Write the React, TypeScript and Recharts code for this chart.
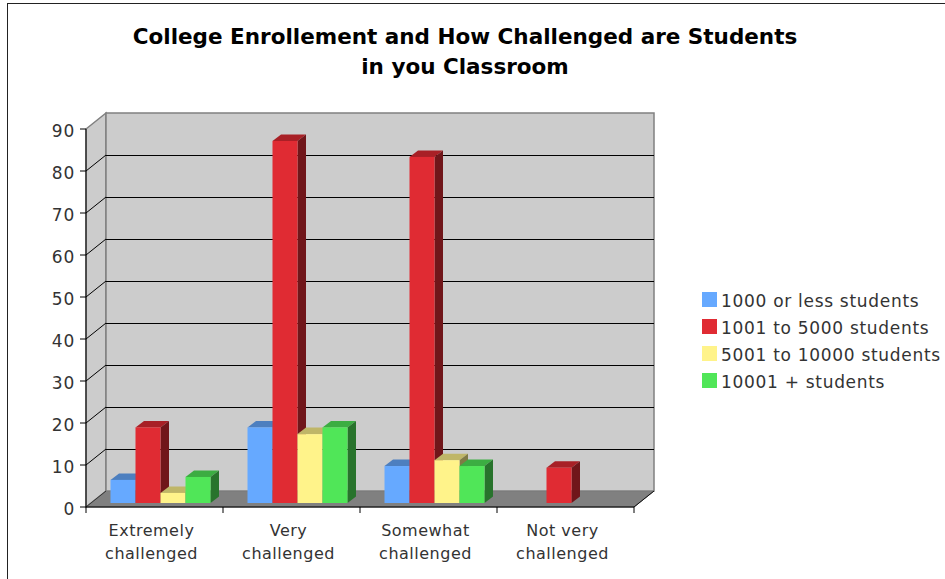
import { Bar, BarChart, CartesianGrid, Legend, ReferenceArea, XAxis, YAxis } from 'recharts';

const categories = ['Extremely challenged', 'Very challenged', 'Somewhat challenged', 'Not very challenged'];
const upTo1000 = [5.5, 18, 8.8, 0];
const upTo5000 = [18, 86.2, 82.4, 8.4];
const upTo10000 = [2.4, 16.4, 10.2, 0];
const over10000 = [6.2, 18, 8.8, 0];
const yTicks = [0, 10, 20, 30, 40, 50, 60, 70, 80, 90];

const chartData = categories.map((name, i) => ({
  name,
  a: upTo1000[i],
  b: upTo5000[i],
  c: upTo10000[i],
  d: over10000[i],
}));

const FONT = '"DejaVu Sans", Verdana, sans-serif';
const TEXT = '#333333';
const WALL_DX = 20;
const WALL_DY = 16;
const PLOT_TOP = 129;
const PLOT_BOTTOM = 507;
const BAND = 137;

const shade = (hex: string, k: number) => {
  const n = parseInt(hex.slice(1), 16);
  const c = (v: number) => Math.round(v * k);
  return `rgb(${c((n >> 16) & 255)},${c((n >> 8) & 255)},${c(n & 255)})`;
};

// bar with a top and a side face, pushed half way into the floor
const Bar3D = (props: any) => {
  const { x, y, width, height, fill } = props;
  if (!height || height <= 0) return null;
  const l = x + 5.5;
  const t = y - 4;
  const r = l + width;
  const b = t + height;
  const dx = 8.5;
  const dy = 6.5;
  return (
    <g>
      <polygon points={`${l},${t} ${l + dx},${t - dy} ${r + dx},${t - dy} ${r},${t}`} fill={shade(fill, 0.75)} />
      <polygon points={`${r},${t} ${r + dx},${t - dy} ${r + dx},${b - dy} ${r},${b}`} fill={shade(fill, 0.5)} />
      <rect x={l} y={t} width={width} height={height} fill={fill} />
    </g>
  );
};

const Walls = (props: any) => {
  const { x, y, width, height } = props;
  const r = x + width;
  const b = y + height;
  return (
    <g>
      <polygon
        points={`${x},${b} ${x + WALL_DX},${b - WALL_DY} ${r + WALL_DX},${b - WALL_DY} ${r},${b}`}
        fill="#808080"
        stroke="#666666"
      />
      <polygon
        points={`${x},${y} ${x + WALL_DX},${y - WALL_DY} ${x + WALL_DX},${b - WALL_DY} ${x},${b}`}
        fill="#cccccc"
        stroke="#808080"
        strokeWidth={1.5}
      />
      <rect x={x + WALL_DX} y={y - WALL_DY} width={width} height={height} fill="#cccccc" stroke="#808080" strokeWidth={1.5} />
      <line x1={x} y1={b} x2={x + WALL_DX} y2={b - WALL_DY} stroke="#333333" />
      <line x1={r} y1={b} x2={r + WALL_DX} y2={b - WALL_DY} stroke="#111111" />
    </g>
  );
};

const GridLine = (props: any) => {
  const { x1, x2, y1 } = props;
  if (y1 <= PLOT_TOP + 1 || y1 >= PLOT_BOTTOM - 1) return <g />;
  return (
    <g>
      <line x1={x1} y1={y1} x2={x1 + WALL_DX} y2={y1 - WALL_DY} stroke="#000000" />
      <line
        x1={x1 + WALL_DX}
        y1={y1 - WALL_DY}
        x2={x2 + WALL_DX}
        y2={y1 - WALL_DY}
        stroke="#000000"
        shapeRendering="crispEdges"
      />
    </g>
  );
};

const CategoryTick = (props: any) => {
  const { x, payload, index } = props;
  const words = String(payload.value).split(' ');
  const second = words.pop();
  const tickLeft = x - BAND / 2;
  return (
    <g>
      <line x1={tickLeft} y1={PLOT_BOTTOM} x2={tickLeft} y2={PLOT_BOTTOM + 6} stroke="#000000" />
      {index === categories.length - 1 && (
        <line x1={tickLeft + BAND} y1={PLOT_BOTTOM} x2={tickLeft + BAND} y2={PLOT_BOTTOM + 6} stroke="#000000" />
      )}
      <text x={x - 3} y={536} textAnchor="middle" fontFamily={FONT} fontSize={16} letterSpacing={0.5} fill={TEXT}>
        {words.join(' ')}
      </text>
      <text x={x - 3} y={559} textAnchor="middle" fontFamily={FONT} fontSize={16} letterSpacing={0.5} fill={TEXT}>
        {second}
      </text>
    </g>
  );
};

const LegendList = (props: any) => (
  <div>
    {props.payload.map((item: any) => (
      <div key={item.value} style={{ display: 'flex', alignItems: 'center', height: 27 }}>
        <span style={{ width: 15, height: 15, background: item.color, marginRight: 4, flexShrink: 0 }} />
        <span
          style={{
            position: 'relative',
            top: 1,
            fontFamily: FONT,
            fontSize: 17,
            letterSpacing: 0.7,
            color: TEXT,
            whiteSpace: 'nowrap',
          }}
        >
          {item.value}
        </span>
      </div>
    ))}
  </div>
);

const titleLine = (text: string, top: number) => (
  <div
    style={{
      position: 'absolute',
      left: 0,
      width: 930,
      top,
      textAlign: 'center',
      fontFamily: FONT,
      fontWeight: 'bold',
      fontSize: 21.5,
      lineHeight: '30px',
      color: '#000000',
    }}
  >
    {text}
  </div>
);

const App = () => {
  return (
    <div style={{ position: 'fixed', left: 0, top: 0, width: 945, height: 579, overflow: 'hidden', background: '#fff' }}>
      <div
        style={{
          position: 'absolute',
          left: 7,
          top: 3,
          width: 1000,
          height: 700,
          border: '1.5px solid #222222',
        }}
      />
      <BarChart
        width={945}
        height={579}
        data={chartData}
        margin={{ top: PLOT_TOP, right: 68, bottom: 12, left: 46 }}
        barSize={25}
        barGap={0}
        style={{ position: 'absolute', left: 0, top: 0 }}
      >
        <ReferenceArea y1={0} y2={90} shape={<Walls />} ifOverflow="visible" zIndex={-200} />
        <CartesianGrid vertical={false} horizontal={GridLine as any} />
        <XAxis
          dataKey="name"
          height={60}
          interval={0}
          tickLine={false}
          axisLine={{ stroke: '#000000' }}
          tick={<CategoryTick />}
        />
        <YAxis
          width={40}
          domain={[0, 90]}
          ticks={yTicks}
          interval={0}
          tickSize={6}
          tickMargin={5}
          axisLine={{ stroke: '#000000' }}
          tickLine={{ stroke: '#000000' }}
          tick={{ fontFamily: FONT, fontSize: 17, letterSpacing: 0.8, fill: TEXT, dy: 1.5 }}
        />
        <Legend
          layout="vertical"
          align="right"
          verticalAlign="top"
          itemSorter={null}
          wrapperStyle={{ left: 702, top: 286, width: 243 }}
          content={<LegendList />}
        />
        <Bar dataKey="a" name="1000 or less students" fill="#66a9ff" shape={<Bar3D />} isAnimationActive={false} />
        <Bar dataKey="b" name="1001 to 5000 students" fill="#e02b33" shape={<Bar3D />} isAnimationActive={false} />
        <Bar dataKey="c" name="5001 to 10000 students" fill="#fff38a" shape={<Bar3D />} isAnimationActive={false} />
        <Bar dataKey="d" name="10001 + students" fill="#50e658" shape={<Bar3D />} isAnimationActive={false} />
      </BarChart>
      {titleLine('College Enrollement and How Challenged are Students', 22)}
      {titleLine('in you Classroom', 52)}
    </div>
  );
};

export default App;
